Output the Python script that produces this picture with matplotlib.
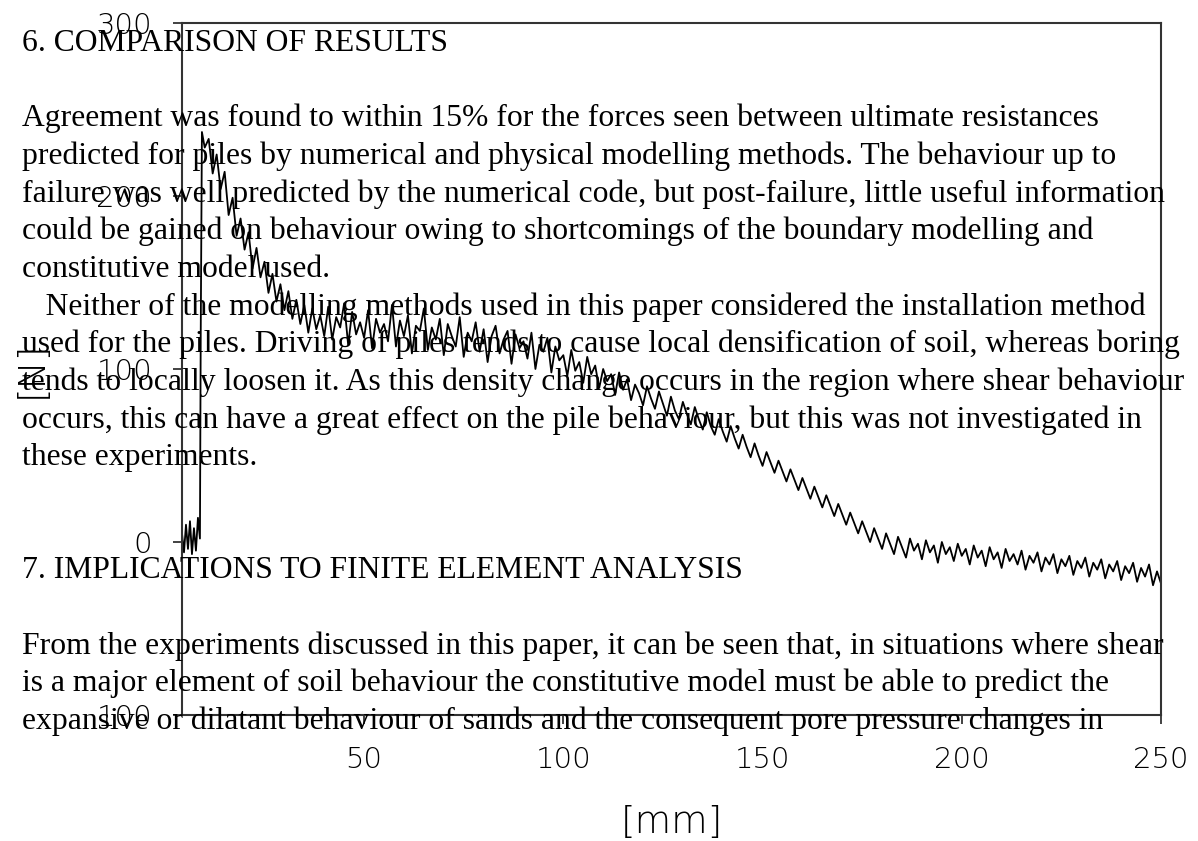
import numpy as np
import matplotlib
matplotlib.use("Agg")
import matplotlib.pyplot as plt

W, H = 1198, 841

# ---- data ----
rise_x = [4.3, 4.8, 5.3, 5.8, 6.3, 6.8, 7.3, 7.8, 8.3, 8.8, 9.0, 9.3]
rise_y = [5, -6, 10, -4, 12, -7, 8, -5, 14, 2, 120, 237]

main_start, main_stop = 10, 250  # 1 mm sampling
main_y = [
    228, 233, 213, 224, 204, 214, 189, 199, 177, 187,
    169, 179, 158, 170, 153, 162, 144, 155, 139, 149,
    134, 145, 129, 140, 126, 137, 121, 135, 123, 131,
    119, 136, 117, 130, 124, 138, 114, 133, 120, 127,
    118, 134, 112, 129, 121, 126, 116, 137, 113, 128,
    119, 131, 109, 125, 122, 135, 111, 124, 117, 129,
    108, 126, 119, 113, 130, 107, 121, 116, 127, 110,
    123, 104, 119, 125, 109, 117, 122, 103, 120, 112,
    116, 106, 121, 100, 114, 110, 118, 98, 113, 105,
    108, 96, 111, 99, 104, 92, 107, 97, 102, 89,
    100, 93, 97, 85, 98, 88, 94, 82, 91, 86,
    79, 90, 83, 77, 87, 80, 73, 84, 76, 71,
    81, 74, 68, 78, 71, 65, 75, 67, 62, 71,
    64, 58, 67, 60, 54, 62, 55, 49, 57, 50,
    44, 52, 46, 40, 47, 41, 35, 42, 36, 30,
    37, 31, 25, 32, 26, 20, 27, 21, 15, 22,
    16, 10, 17, 11, 5, 12, 6, 0, 8, 2,
    -4, 5, -1, -7, 3, -3, -9, 2, -5, -1,
    -10, 1, -6, -2, -12, 0, -7, -3, -11, -1,
    -8, -4, -13, -2, -9, -5, -14, -3, -10, -6,
    -15, -4, -11, -7, -13, -5, -16, -8, -12, -6,
    -17, -9, -13, -7, -18, -10, -14, -8, -19, -11,
    -15, -9, -20, -12, -16, -10, -21, -13, -17, -11,
    -22, -14, -18, -12, -23, -15, -20, -13, -25, -17,
    -24,
]

x_ticks = [50, 100, 150, 200, 250]
y_ticks = [-100, 0, 100, 200, 300]
y_tick_labels = ["100", "0", "100", "200", "300"]
x_label = "[mm]"
y_label = "[N]"

paper_lines = {
    0: "6. COMPARISON OF RESULTS",
    2: "Agreement was found to within 15% for the forces seen between ultimate resistances",
    3: "predicted for piles by numerical and physical modelling methods. The behaviour up to",
    4: "failure was well predicted by the numerical code, but post-failure, little useful information",
    5: "could be gained on behaviour owing to shortcomings of the boundary modelling and",
    6: "constitutive model used.",
    7: "   Neither of the modelling methods used in this paper considered the installation method",
    8: "used for the piles. Driving of piles tends to cause local densification of soil, whereas boring",
    9: "tends to locally loosen it. As this density change occurs in the region where shear behaviour",
    10: "occurs, this can have a great effect on the pile behaviour, but this was not investigated in",
    11: "these experiments.",
    14: "7. IMPLICATIONS TO FINITE ELEMENT ANALYSIS",
    16: "From the experiments discussed in this paper, it can be seen that, in situations where shear",
    17: "is a major element of soil behaviour the constitutive model must be able to predict the",
    18: "expansive or dilatant behaviour of sands and the consequent pore pressure changes in",
}

# ---- figure ----
fig = plt.figure(figsize=(W / 100, H / 100), dpi=100)
fig.patch.set_facecolor("white")

L, R, T, B = 182, 1161, 23, 715
ax = fig.add_axes([L / W, 1 - B / H, (R - L) / W, (B - T) / H])

x_all = list(rise_x) + list(np.arange(main_start, main_stop + 1))
y_all = list(rise_y) + list(main_y)
ax.plot(x_all, y_all, color="black", lw=1.3)

ax.set_xlim(4.3, 250)
ax.set_ylim(-100, 300)

tick_font = dict(family="DejaVu Sans", weight="light", size=21)
ax.set_xticks(x_ticks)
ax.set_xticklabels([str(v) for v in x_ticks], **tick_font)
ax.set_yticks(y_ticks)
ax.set_yticklabels(y_tick_labels, **tick_font)
ax.tick_params(axis="both", direction="out", length=6.5, width=1.2, color="#222222")
ax.tick_params(axis="x", pad=16)
ax.tick_params(axis="y", pad=15)
for s in ax.spines.values():
    s.set_color("#333333")
    s.set_linewidth(1.5)

ax.set_xlabel(x_label, family="DejaVu Sans", weight="light", size=27, labelpad=22)
ax.set_ylabel(y_label, family="DejaVu Sans", weight="light", size=27)
ax.yaxis.set_label_coords((49 - L) / (R - L), 0.5)

for k, txt in paper_lines.items():
    baseline = 51 + 37.67 * k
    fig.text(22 / W, 1 - baseline / H, txt, family="Liberation Serif",
             size=22.8, color="black", va="baseline", ha="left", zorder=5)

fig.savefig("out.png", dpi=100)
